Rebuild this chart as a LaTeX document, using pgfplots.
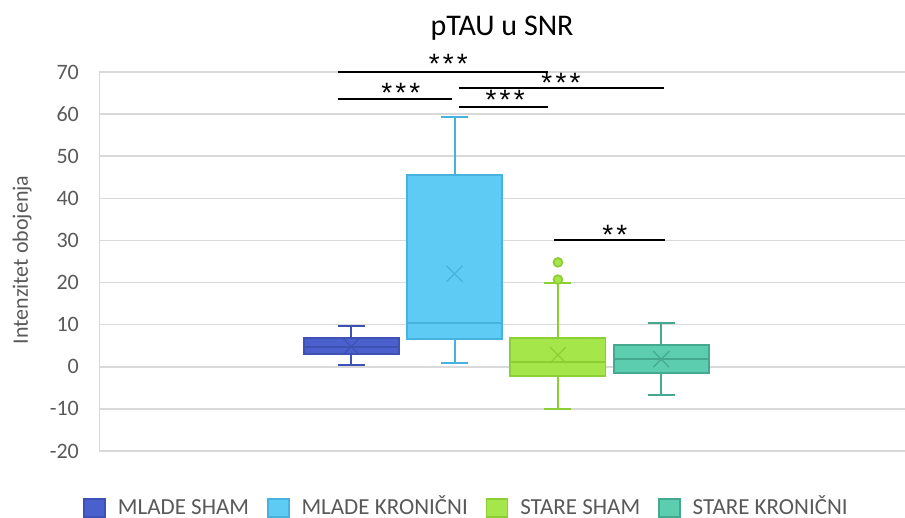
\documentclass[border=0pt]{standalone}
\usepackage{pgfplots}
\pgfplotsset{compat=1.18}
\usepgfplotslibrary{statistics}
\usepackage{fontspec}
\setmainfont{Carlito}
\newfontfamily\astfont{Liberation Sans}
\newcommand{\sigast}{*\hspace{1.6pt}}
\definecolor{c1}{RGB}{74,96,204}
\definecolor{c1b}{RGB}{62,81,181}
\definecolor{c2}{RGB}{93,203,243}
\definecolor{c2b}{RGB}{69,179,221}
\definecolor{c3}{RGB}{165,230,74}
\definecolor{c3b}{RGB}{140,207,53}
\definecolor{c4}{RGB}{92,205,175}
\definecolor{c4b}{RGB}{69,169,143}
\definecolor{gridgray}{RGB}{217,217,217}
\definecolor{labelgray}{RGB}{89,89,89}
\begin{document}
\begin{tikzpicture}
\useasboundingbox (0pt,0pt) rectangle (452.5pt,-259pt);
\node[anchor=base, font=\fontsize{15}{18}\selectfont] at (251pt,-18pt) {pTAU u SNR};
\node[rotate=90, font=\fontsize{11}{13}\selectfont, text=labelgray] at (11pt,-130pt) {Intenzitet obojenja};
\begin{axis}[
  at={(49.75pt,-225.5pt)}, anchor=south west,
  scale only axis, width=402.75pt, height=189.5pt,
  xmin=-1.435, xmax=6.358,
  ymin=-20, ymax=70, ytick={-20,-10,...,70},
  axis x line=none, axis y line=left,
  y axis line style={-, draw=gridgray, line width=0.75pt},
  ymajorgrids, grid style={gridgray, line width=0.75pt},
  ytick style={draw=none},
  /pgf/number format/assume math mode=true,
  yticklabel style={font=\fontsize{11}{13}\selectfont, text=labelgray, anchor=east, inner sep=0pt, xshift=-8pt},
  clip=false,
  boxplot/draw direction=y,
  boxplot/box extend=0.92,
  boxplot/whisker extend=0.26,
  boxplot/every whisker/.style={line width=1pt},
  boxplot/every median/.style={line width=1pt},
  boxplot/draw/average/.code={\draw[/pgfplots/boxplot/every average/.try, line width=0.6pt] (boxplot box cs:\pgfplotsboxplotvalue{average},0.5) +(-4pt,-4pt) -- +(4pt,4pt) +(-4pt,4pt) -- +(4pt,-4pt);},
  legend style={at={(0.457,-0.150)}, anchor=center, draw=none, fill=none, legend columns=4,
    font=\fontsize{11.5}{14}\selectfont, text=labelgray, inner sep=0pt,
    nodes={text height=9.5pt, text depth=2.5pt},
    /tikz/every odd column/.append style={column sep=4pt},
    /tikz/every even column/.append style={column sep=7pt}},
  legend cell align=left,
]
\addplot[draw=c1b, line width=0.9pt, solid, boxplot/every box/.style={fill=c1},
  boxplot prepared={draw position=1, lower whisker=0.4, lower quartile=3.0, median=4.7, upper quartile=6.8, upper whisker=9.7, average=4.8},
  legend image code/.code={\draw[draw=c1b, fill=c1, line width=0.75pt] (0pt,-4.5pt) rectangle (10.5pt,4.5pt);}]
  coordinates {};
\addlegendentry{MLADE SHAM}
\addplot[draw=c2b, line width=0.9pt, solid, boxplot/every box/.style={fill=c2},
  boxplot prepared={draw position=2, lower whisker=0.9, lower quartile=6.65, median=10.5, upper quartile=45.5, upper whisker=59.4, average=22.1},
  legend image code/.code={\draw[draw=c2b, fill=c2, line width=0.75pt] (0pt,-4.5pt) rectangle (10.5pt,4.5pt);}]
  coordinates {};
\addlegendentry{MLADE KRONIČNI}
\addplot[draw=c3b, line width=0.9pt, solid, boxplot/every box/.style={fill=c3},
  mark=*, mark size=2.2pt, mark options={fill=c3, draw=c3b},
  boxplot prepared={draw position=3, lower whisker=-10.1, lower quartile=-2.1, median=1.2, upper quartile=6.9, upper whisker=19.9, average=2.8},
  legend image code/.code={\draw[draw=c3b, fill=c3, line width=0.75pt] (0pt,-4.5pt) rectangle (10.5pt,4.5pt);}]
  table[row sep=\\, y index=0] {24.8\\ 20.7\\};
\addlegendentry{STARE SHAM}
\addplot[draw=c4b, line width=0.9pt, solid, boxplot/every box/.style={fill=c4},
  boxplot prepared={draw position=4, lower whisker=-6.8, lower quartile=-1.5, median=1.8, upper quartile=5.2, upper whisker=10.5, average=1.8},
  legend image code/.code={\draw[draw=c4b, fill=c4, line width=0.75pt] (0pt,-4.5pt) rectangle (10.5pt,4.5pt);}]
  coordinates {};
\addlegendentry{STARE KRONIČNI}
% significance bars
\addplot[black, line width=1pt, forget plot] coordinates {(0.87,70) (2.90,70)};
\addplot[black, line width=1pt, forget plot] coordinates {(0.87,63.6) (1.98,63.6)};
\addplot[black, line width=1pt, forget plot] coordinates {(2.04,66.2) (4.03,66.2)};
\addplot[black, line width=1pt, forget plot] coordinates {(2.04,61.8) (2.90,61.8)};
\addplot[black, line width=1pt, forget plot] coordinates {(2.96,30.0) (4.04,30.0)};
\node[font=\astfont\fontsize{14}{16}\selectfont] at (axis cs:1.94,72.0) {\sigast\sigast*};
\node[font=\astfont\fontsize{14}{16}\selectfont] at (axis cs:1.48,65.1) {\sigast\sigast*};
\node[font=\astfont\fontsize{14}{16}\selectfont] at (axis cs:3.03,67.5) {\sigast\sigast*};
\node[font=\astfont\fontsize{14}{16}\selectfont] at (axis cs:2.49,63.5) {\sigast\sigast*};
\node[font=\astfont\fontsize{14}{16}\selectfont] at (axis cs:3.55,31.4) {\sigast*};
\end{axis}
\end{tikzpicture}
\end{document}
